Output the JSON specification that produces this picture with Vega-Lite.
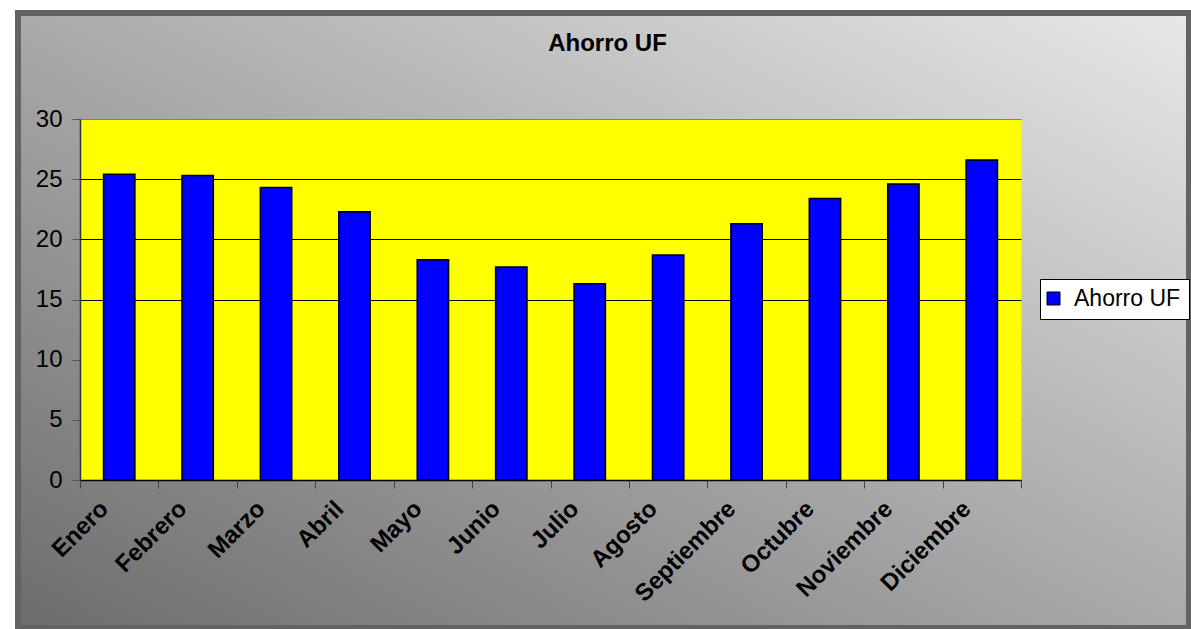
{
  "$schema": "https://vega.github.io/schema/vega-lite/v6.json",
  "autosize": {"type": "none"},
  "padding": {"left": 18, "top": 13, "right": 2, "bottom": 1},
  "width": 1171,
  "height": 615,
  "background": "#ffffff",
  "title": {"text": "Ahorro UF", "font": "Liberation Sans", "fontSize": 24, "fontWeight": "bold", "color": "#000000", "offset": -43, "dx": 4, "anchor": "middle", "frame": "group"},
  "config": {
    "view": {
      "fill": {"gradient": "linear", "x1": 1, "y1": 0, "x2": 0, "y2": 1, "stops": [{"offset": 0, "color": "#e8e8e8"}, {"offset": 1, "color": "#6c6c6c"}]},
      "stroke": "#636363", "strokeWidth": 6
    },
    "font": "Liberation Sans"
  },
  "data": {"values": [
    {"mes": "Enero", "valor": 25.4, "serie": "Ahorro UF"},
    {"mes": "Febrero", "valor": 25.3, "serie": "Ahorro UF"},
    {"mes": "Marzo", "valor": 24.3, "serie": "Ahorro UF"},
    {"mes": "Abril", "valor": 22.3, "serie": "Ahorro UF"},
    {"mes": "Mayo", "valor": 18.3, "serie": "Ahorro UF"},
    {"mes": "Junio", "valor": 17.7, "serie": "Ahorro UF"},
    {"mes": "Julio", "valor": 16.3, "serie": "Ahorro UF"},
    {"mes": "Agosto", "valor": 18.7, "serie": "Ahorro UF"},
    {"mes": "Septiembre", "valor": 21.3, "serie": "Ahorro UF"},
    {"mes": "Octubre", "valor": 23.4, "serie": "Ahorro UF"},
    {"mes": "Noviembre", "valor": 24.6, "serie": "Ahorro UF"},
    {"mes": "Diciembre", "valor": 26.6, "serie": "Ahorro UF"}
  ]},
  "mark": {"type": "bar", "stroke": "#000000", "strokeWidth": 1.5, "width": {"band": 0.4}},
  "encoding": {
    "x": {
      "field": "mes", "type": "nominal", "sort": null,
      "scale": {"paddingInner": 0, "paddingOuter": 0, "range": [62, 1003]},
      "axis": {
        "title": null, "orient": "bottom", "offset": -148,
        "labelAngle": -45, "labelAlign": "right", "labelBaseline": "middle",
        "labelFontSize": 24, "labelFontWeight": "bold", "labelColor": "#000000",
        "labelOffset": -15, "labelPadding": 17,
        "tickBand": "extent", "tickSize": 8, "tickColor": "#444444", "tickWidth": 1,
        "domainColor": "#000000", "domainWidth": 1.5, "labelOverlap": false, "labelBound": false, "labelFlush": false
      }
    },
    "y": {
      "field": "valor", "type": "quantitative",
      "scale": {"domain": [0, 30], "nice": false, "zero": true, "range": [467, 106]},
      "axis": {
        "title": null, "orient": "left", "offset": -62,
        "values": [14.99999, 0, 5, 10, 15, 20, 25, 30],
        "labelExpr": "datum.value > 14.9 && datum.value < 15 ? '' : datum.label",
        "labelFontSize": 24, "labelColor": "#000000", "labelPadding": 10,
        "tickSize": 8, "tickColor": "#555555", "domainColor": "#333333", "domainWidth": 1.5,
        "grid": true, "gridOpacity": 1,
        "gridColor": {"condition": [
          {"test": "datum.value > 14.9 && datum.value < 15", "value": "#ffff00"},
          {"test": "datum.value >= 29.9", "value": "#808080"}
        ], "value": "#000000"},
        "gridWidth": {"condition": {"test": "datum.value > 14.9 && datum.value < 15", "value": 361}, "value": 1}
      }
    },
    "color": {
      "field": "serie", "type": "nominal",
      "scale": {"range": ["#0000ff"]},
      "legend": {
        "title": null, "orient": "none", "legendX": 1022, "legendY": 266,
        "fillColor": "#ffffff", "strokeColor": "#000000", "padding": 8,
        "symbolType": "square", "symbolSize": 169, "symbolStrokeColor": "#000000", "symbolStrokeWidth": 1,
        "symbolOffset": -6,
        "labelFontSize": 23, "labelColor": "#000000", "labelFont": "Liberation Sans", "labelOffset": 9
      }
    }
  }
}
